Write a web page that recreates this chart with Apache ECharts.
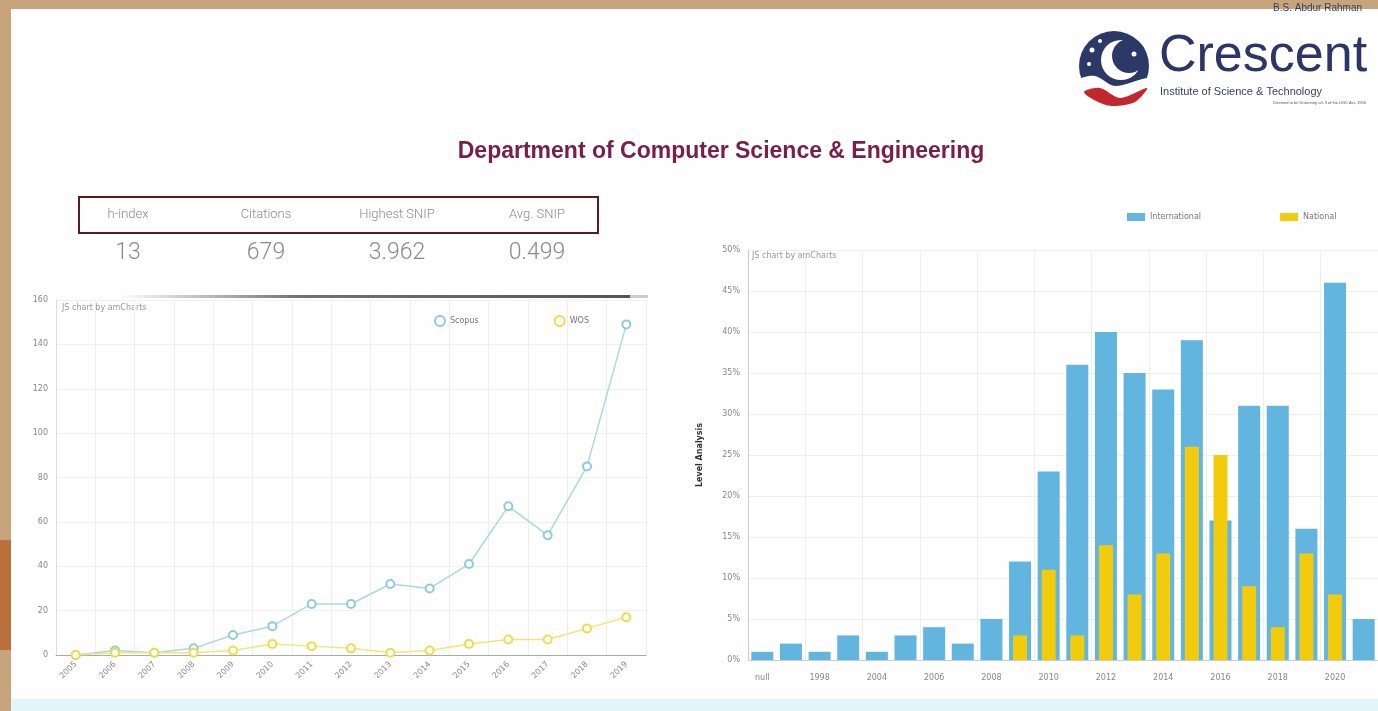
<!DOCTYPE html>
<html><head><meta charset="utf-8">
<script src="https://cdn.jsdelivr.net/npm/echarts@6/dist/echarts.min.js"></script>
<style>html,body{margin:0;padding:0;background:#fff}#c{width:1378px;height:711px}</style>
</head><body><div id="c"></div>
<script>
// ---- data ----
const lineYears = ['2005','2006','2007','2008','2009','2010','2011','2012','2013','2014','2015','2016','2017','2018','2019'];
const scopus = [0,2,1,3,9,13,23,23,32,30,41,67,54,85,149];
const wos = [0,1,1,1,2,5,4,3,1,2,5,7,7,12,17];
const barCats = ['null','1997','1998','2003','2004','2005','2006','2007','2008','2009','2010','2011','2012','2013','2014','2015','2016','2017','2018','2019','2020','2021'];
const international = [1,2,1,3,1,3,4,2,5,12,23,36,40,35,33,39,17,31,31,16,46,5];
const national = [0,0,0,0,0,0,0,0,0,3,11,3,14,8,13,26,25,9,4,13,8,0];
const statLabels = ['h-index','Citations','Highest SNIP','Avg. SNIP'];
const statValues = ['13','679','3.962','0.499'];

const chart = echarts.init(document.getElementById('c'));
const statX = [128,266,397,537];
const graphics = [
  {type:'rect', z:-10, shape:{x:0,y:0,width:1378,height:711}, style:{fill:'#c7a47c'}},
  {type:'rect', z:-9, shape:{x:0,y:540,width:14,height:110}, style:{fill:'#b9703a'}},
  {type:'rect', z:-8, shape:{x:11,y:9,width:1367,height:702}, style:{fill:'#fefefe'}},
  {type:'rect', z:-7, shape:{x:11,y:699,width:1367,height:12}, style:{fill:'#e2f5fa'}},
  // title
  {type:'text', x:721, y:152, style:{text:'Department of Computer Science & Engineering', align:'center', verticalAlign:'middle', fontFamily:'Liberation Sans', fontWeight:'bold', fontSize:23, fill:'#76204a'}},
  // stats box
  {type:'rect', shape:{x:79,y:197,width:519,height:36}, style:{fill:'#fff', stroke:'#5a1b25', lineWidth:2}},
  // logo
  {type:'circle', shape:{cx:1114,cy:66,r:35}, style:{fill:'#2c3866'}},
  {type:'circle', shape:{cx:1121,cy:60,r:20}, style:{fill:'#ffffff'}},
  {type:'circle', shape:{cx:1129,cy:56,r:17}, style:{fill:'#2c3866'}},
  {type:'circle', shape:{cx:1092,cy:50,r:2.5}, style:{fill:'#fff'}},
  {type:'circle', shape:{cx:1100,cy:41,r:2}, style:{fill:'#fff'}},
  {type:'circle', shape:{cx:1089,cy:64,r:2}, style:{fill:'#fff'}},
  {type:'circle', shape:{cx:1134,cy:54,r:2.5}, style:{fill:'#fff'}},
  {type:'polygon', shape:{points:[[1079,80],[1095,76],[1115,86],[1150,78],[1148,92],[1120,100],[1100,90],[1084,94]], smooth:0.3}, style:{fill:'#ffffff'}},
  {type:'polygon', shape:{points:[[1084,92],[1100,88],[1120,98],[1147,88],[1135,102],[1112,106],[1096,101]], smooth:0.3}, style:{fill:'#c1272d'}},
  {type:'text', x:1362, y:3, style:{text:'B.S. Abdur Rahman', align:'right', fontFamily:'Liberation Sans', fontSize:10, fill:'#3a3f5c'}},
  {type:'text', x:1159, y:31, style:{text:'Crescent', fontFamily:'Liberation Sans', fontSize:52, fill:'#2c3566'}},
  {type:'text', x:1160, y:86, style:{text:'Institute of Science & Technology', fontFamily:'Liberation Sans', fontSize:11, fill:'#3a3f5c'}},
  {type:'text', x:1366, y:101, style:{text:'Deemed to be University u/s 3 of the UGC Act, 1956', align:'right', fontFamily:'Liberation Sans', fontSize:4, fill:'#555'}},
  // amCharts credit texts
  {type:'text', x:62, y:304, style:{text:'JS chart by amCharts', fontFamily:'DejaVu Sans', fontSize:8, fill:'#999'}},
  {type:'text', x:752, y:252, style:{text:'JS chart by amCharts', fontFamily:'DejaVu Sans', fontSize:8, fill:'#999'}},
  // scrollbar-like line
  {type:'rect', shape:{x:120,y:295,width:510,height:3}, style:{fill:new echarts.graphic.LinearGradient(0,0,1,0,[{offset:0,color:'rgba(90,90,90,0)'},{offset:0.35,color:'rgba(90,90,90,0.85)'},{offset:1,color:'#555'}])}},
  {type:'rect', shape:{x:630,y:295,width:18,height:3}, style:{fill:'#ccc'}}
];
statLabels.forEach((t,i)=>{
  graphics.push({type:'text', x:statX[i], y:215, style:{text:t, align:'center', verticalAlign:'middle', fontFamily:'Roboto', fontWeight:300, fontSize:13, fill:'#8a8a8a'}});
});
statValues.forEach((t,i)=>{
  graphics.push({type:'text', x:statX[i], y:253, style:{text:t, align:'center', verticalAlign:'middle', fontFamily:'Roboto', fontWeight:300, fontSize:23, fill:'#8a8a8a'}});
});

const axisLabelStyle = {fontFamily:'DejaVu Sans', fontSize:8, color:'#888'};
const option = {
  animation:false,
  graphic: graphics,
  legend: [
    {left:429, top:310, itemGap:75, itemWidth:10, itemHeight:10, icon:'emptyCircle',
     textStyle:{fontFamily:'DejaVu Sans', fontSize:8, color:'#777'}, data:['Scopus','WOS']},
    {left:1122, top:208, itemGap:79, itemWidth:18, itemHeight:8, icon:'rect',
     textStyle:{fontFamily:'DejaVu Sans', fontSize:8, color:'#777'}, data:['International','National']}
  ],
  grid: [
    {left:56, top:300, width:590, height:355},
    {left:748, top:250, width:632, height:410}
  ],
  xAxis: [
    {type:'category', gridIndex:0, data:lineYears, boundaryGap:true,
     axisLine:{lineStyle:{color:'#aaa'}}, axisTick:{show:false},
     axisLabel:Object.assign({rotate:45, margin:8, interval:0}, axisLabelStyle),
     splitLine:{show:true, lineStyle:{color:'#eee'}}},
    {type:'category', gridIndex:1, data:barCats,
     axisLine:{lineStyle:{color:'#ccc'}}, axisTick:{show:false},
     axisLabel:Object.assign({interval:1, margin:14}, axisLabelStyle),
     splitLine:{show:true, interval:1, lineStyle:{color:'#eee'}}},
    {type:'category', gridIndex:1, data:barCats, show:false}
  ],
  yAxis: [
    {type:'value', gridIndex:0, min:0, max:160, interval:20,
     axisLine:{show:true, lineStyle:{color:'#ddd'}}, axisTick:{show:false},
     axisLabel:axisLabelStyle, splitLine:{lineStyle:{color:'#f0f0f0'}}},
    {type:'value', gridIndex:1, min:0, max:50, interval:5,
     name:'Level Analysis', nameLocation:'middle', nameGap:44, nameRotate:90,
     nameTextStyle:{fontFamily:'DejaVu Sans', fontSize:8, fontWeight:'bold', color:'#333'},
     axisLine:{show:true, lineStyle:{color:'#ccc'}}, axisTick:{show:false},
     axisLabel:Object.assign({formatter:'{value}%'}, axisLabelStyle), splitLine:{lineStyle:{color:'#eee'}}}
  ],
  series: [
    {name:'Scopus', type:'line', xAxisIndex:0, yAxisIndex:0, data:scopus,
     symbol:'emptyCircle', symbolSize:8, color:'#8ecbdc', lineStyle:{width:1.5, color:'#a9d8e4'}, itemStyle:{borderWidth:1.5}},
    {name:'WOS', type:'line', xAxisIndex:0, yAxisIndex:0, data:wos,
     symbol:'emptyCircle', symbolSize:8, color:'#efdc4c', lineStyle:{width:1.5, color:'#f3e57a'}, itemStyle:{borderWidth:1.5}},
    {name:'International', type:'bar', xAxisIndex:1, yAxisIndex:1, data:international, barWidth:22, color:'#62b5de', z:2},
    {name:'National', type:'bar', xAxisIndex:2, yAxisIndex:1, data:national, barWidth:14, color:'#f2cc0c', z:3}
  ]
};
chart.setOption(option);
</script></body></html>
